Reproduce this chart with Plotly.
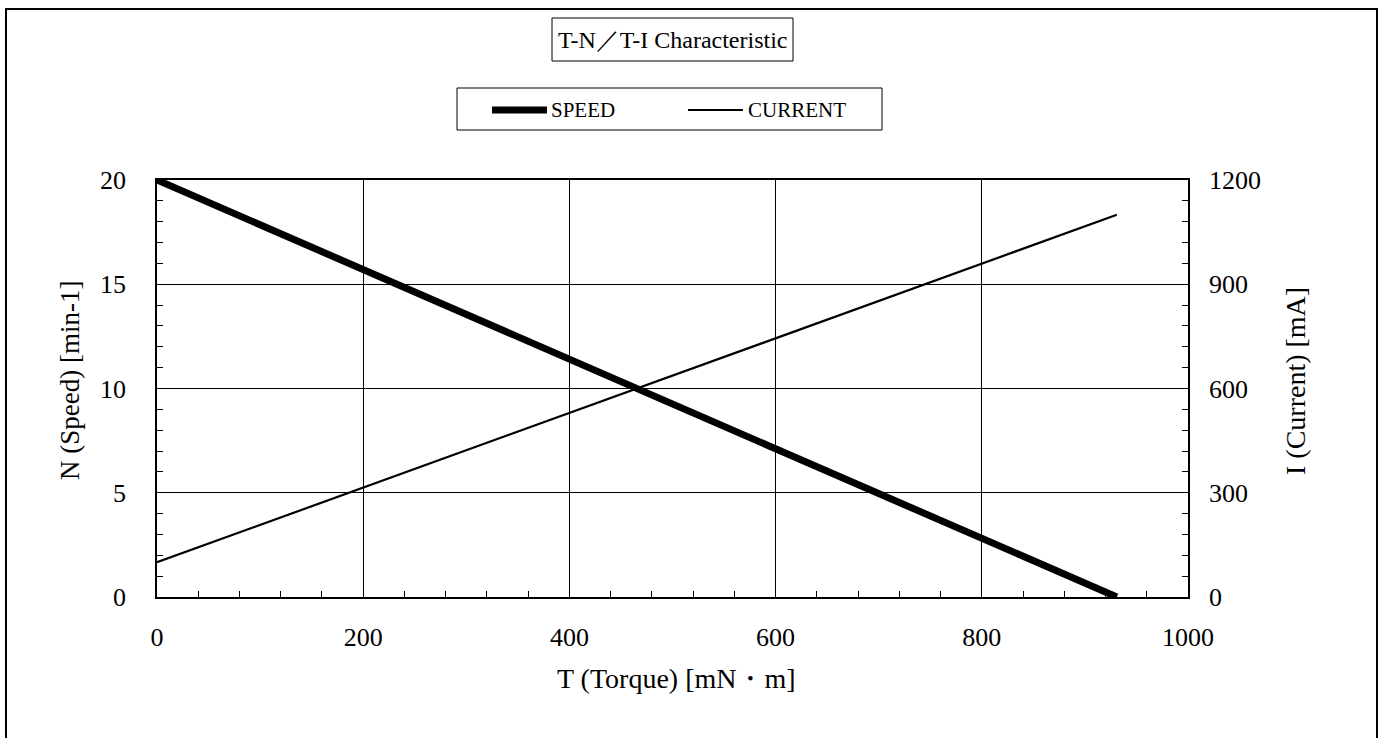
import plotly.graph_objects as go

# ---- data ----
torque = [0, 931]          # T (Torque) [mN·m]
speed = [20, 0]            # N (Speed) [min-1]
current = [100, 1100]      # I (Current) [mA]

x_ticks = [0, 200, 400, 600, 800, 1000]
y_ticks = [0, 5, 10, 15, 20]
y2_ticks = [0, 300, 600, 900, 1200]

title_text = "T-N／T-I Characteristic"
x_title = "T (Torque) [mN・m]"
y_title = "N (Speed) [min-1]"
y2_title = "I (Current) [mA]"

W, H = 1381, 738
L, R, T, B = 157, 1188, 180, 597   # plot area in pixels
pw, ph = R - L, B - T

def px(x):
    return (x - L) / pw

def py(y):
    return (B - y) / ph

FONT = "Liberation Serif, serif"

fig = go.Figure()
fig.add_trace(go.Scatter(x=torque, y=speed, mode="lines", name="SPEED",
                         line=dict(color="black", width=7), yaxis="y"))
fig.add_trace(go.Scatter(x=torque, y=current, mode="lines", name="CURRENT",
                         line=dict(color="black", width=2.2), yaxis="y2"))

shapes = []
annotations = []

# outer frame
shapes.append(dict(type="rect", xref="paper", yref="paper",
                   x0=px(6), x1=px(1377), y0=py(760), y1=py(9),
                   line=dict(color="black", width=2), layer="below"))
# title box
shapes.append(dict(type="rect", xref="paper", yref="paper",
                   x0=px(552), x1=px(793), y0=py(61), y1=py(18),
                   line=dict(color="black", width=1)))
annotations.append(dict(text=title_text, xref="paper", yref="paper",
                        x=px(672.5), y=py(40), showarrow=False,
                        xanchor="center", yanchor="middle",
                        font=dict(family=FONT, size=24, color="black")))
# legend box
shapes.append(dict(type="rect", xref="paper", yref="paper",
                   x0=px(457), x1=px(882), y0=py(130), y1=py(88),
                   line=dict(color="black", width=1)))
shapes.append(dict(type="line", xref="paper", yref="paper",
                   x0=px(492), x1=px(547), y0=py(110), y1=py(110),
                   line=dict(color="black", width=7)))
shapes.append(dict(type="line", xref="paper", yref="paper",
                   x0=px(688), x1=px(743), y0=py(110), y1=py(110),
                   line=dict(color="black", width=2.2)))
annotations.append(dict(text="SPEED", xref="paper", yref="paper",
                        x=px(549), y=py(110), showarrow=False,
                        xanchor="left", yanchor="middle",
                        font=dict(family=FONT, size=21, color="black")))
annotations.append(dict(text="CURRENT", xref="paper", yref="paper",
                        x=px(746), y=py(110), showarrow=False,
                        xanchor="left", yanchor="middle",
                        font=dict(family=FONT, size=21, color="black")))
# axis titles
annotations.append(dict(text=x_title, xref="paper", yref="paper",
                        x=px(676), y=py(678), showarrow=False,
                        xanchor="center", yanchor="middle",
                        font=dict(family=FONT, size=28, color="black")))
annotations.append(dict(text=y_title, xref="paper", yref="paper",
                        x=px(70), y=py(381), showarrow=False, textangle=-90,
                        xanchor="center", yanchor="middle",
                        font=dict(family=FONT, size=27, color="black")))
annotations.append(dict(text=y2_title, xref="paper", yref="paper",
                        x=px(1295), y=py(381), showarrow=False, textangle=-90,
                        xanchor="center", yanchor="middle",
                        font=dict(family=FONT, size=28, color="black")))

tickfont = dict(family=FONT, size=26, color="black")

fig.update_layout(
    width=W, height=H,
    margin=dict(l=L, r=W - R, t=T, b=H - B, autoexpand=False),
    paper_bgcolor="white", plot_bgcolor="white",
    showlegend=False,
    shapes=shapes, annotations=annotations,
    xaxis=dict(range=[0, 1000], tickvals=x_ticks, ticks="inside", ticklen=8,
               tickcolor="black", showgrid=True, gridcolor="black", gridwidth=1,
               showline=True, linecolor="black", linewidth=1.5, mirror=True,
               zeroline=False, tickfont=tickfont, ticklabelstandoff=16,
               minor=dict(dtick=40, ticks="inside", ticklen=6, tickcolor="black",
                          showgrid=False)),
    yaxis=dict(range=[0, 20], tickvals=y_ticks, ticks="inside", ticklen=8,
               tickcolor="black", showgrid=True, gridcolor="black", gridwidth=1,
               showline=True, linecolor="black", linewidth=1.5,
               zeroline=False, tickfont=tickfont, ticklabelstandoff=24,
               minor=dict(dtick=1, ticks="inside", ticklen=6, tickcolor="black",
                          showgrid=False)),
    yaxis2=dict(range=[0, 1200], tickvals=y2_ticks, overlaying="y", side="right",
                ticks="inside", ticklen=8, tickcolor="black", showgrid=False,
                showline=True, linecolor="black", linewidth=1.5,
                zeroline=False, tickfont=tickfont, ticklabelstandoff=14,
                minor=dict(dtick=60, ticks="inside", ticklen=6, tickcolor="black",
                           showgrid=False)),
)

fig.write_html("out.html", config={"displayModeBar": False},
               post_script="document.body.style.margin='0';document.body.style.overflow='hidden';")
